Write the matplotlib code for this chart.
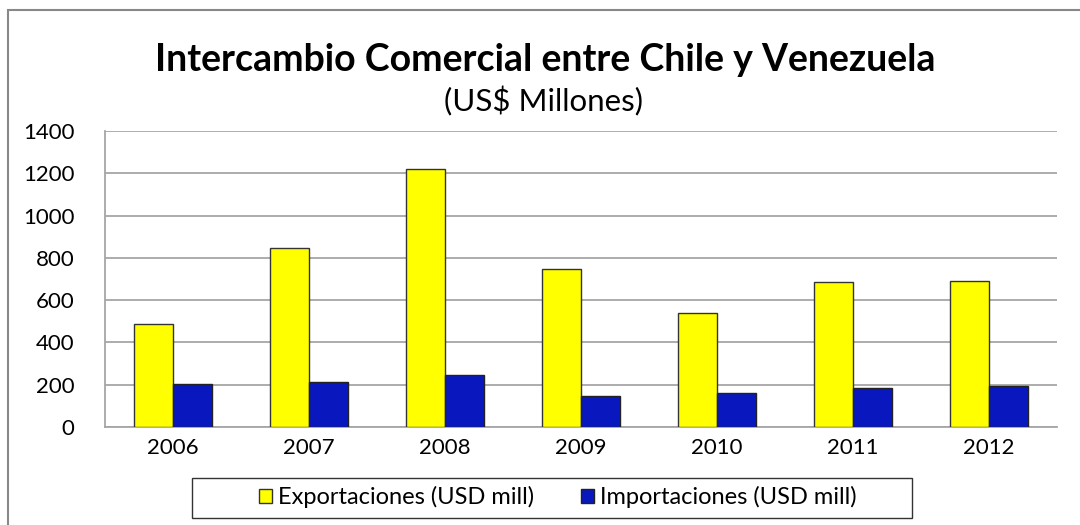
import matplotlib
matplotlib.use("Agg")
import matplotlib.pyplot as plt
import numpy as np
from matplotlib.patches import Rectangle

years = ["2006", "2007", "2008", "2009", "2010", "2011", "2012"]
exportaciones = [486, 845, 1219, 749, 541, 684, 691]
importaciones = [202, 213, 245, 147, 162, 186, 196]
yticks = [0, 200, 400, 600, 800, 1000, 1200, 1400]

plt.rcParams['font.family'] = ['Lato', 'DejaVu Sans']

W, H = 1080, 525
fig = plt.figure(figsize=(W / 100, H / 100), dpi=100)

# outer frame
fig.patches.append(Rectangle((8 / W, -0.1), 1.2, (H - 10) / H + 0.1, transform=fig.transFigure,
                             fill=False, edgecolor='#888888', linewidth=1.5))

left, right, top, bottom = 105, 1057, 131, 427
ax = fig.add_axes([left / W, 1 - bottom / H, (right - left) / W, (bottom - top) / H])

x = np.arange(len(years))
bw = 0.286
ax.bar(x - bw / 2, exportaciones, bw, color='#FFFF00', edgecolor='#333333', linewidth=1.0,
       label='Exportaciones (USD mill)', zorder=3)
ax.bar(x + bw / 2, importaciones, bw, color='#0818BE', edgecolor='#222222', linewidth=1.0,
       label='Importaciones (USD mill)', zorder=3)

ax.set_xlim(-0.5, len(years) - 0.5)
ax.set_ylim(0, 1400)
ax.set_yticks(yticks)
ax.set_yticklabels([str(v) for v in yticks], fontsize=16)
ax.set_xticks(x)
ax.set_xticklabels(years, fontsize=16)
ax.tick_params(axis='both', length=0, pad=8)
ax.tick_params(axis='y', pad=22)
ax.grid(axis='y', color='#A6A6A6', linewidth=1.3, zorder=0)
for s in ['top', 'right']:
    ax.spines[s].set_visible(False)
for s in ['left', 'bottom']:
    ax.spines[s].set_color('#A6A6A6')
    ax.spines[s].set_linewidth(1.3)

fig.text(545 / W, 1 - 60 / H, 'Intercambio Comercial entre Chile y Venezuela',
         ha='center', va='center', fontsize=27, fontweight='bold')
fig.text(544 / W, 1 - 101 / H, '(US$ Millones)', ha='center', va='center', fontsize=22.5)

# legend frame
fig.patches.append(Rectangle((192 / W, 1 - 518 / H), (912 - 192) / W, 40 / H,
                             transform=fig.transFigure, fill=False,
                             edgecolor='#333333', linewidth=1.0))
leg = fig.legend(loc='center', bbox_to_anchor=(558 / W, 1 - 497 / H), ncol=2,
                 fontsize=17, frameon=False, handlelength=0.55,
                 handleheight=0.55, handletextpad=0.25, columnspacing=2.0)

fig.savefig('out.png', dpi=100)
